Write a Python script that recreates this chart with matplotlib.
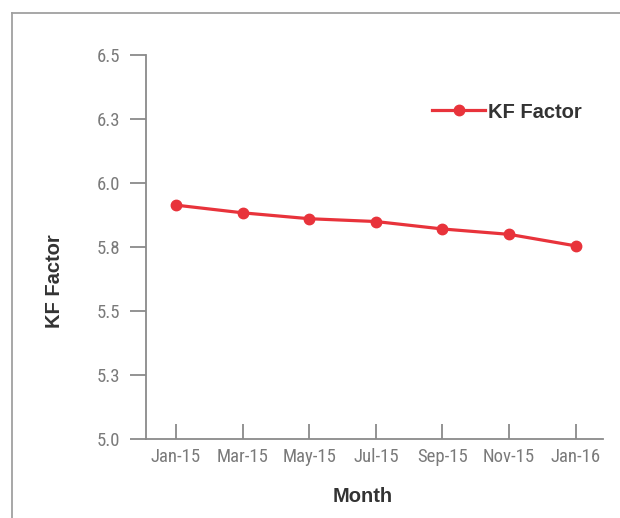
import matplotlib
matplotlib.use("Agg")
import matplotlib.pyplot as plt
from matplotlib.lines import Line2D
from matplotlib import font_manager

months = ["Jan-15", "Mar-15", "May-15", "Jul-15", "Sep-15", "Nov-15", "Jan-16"]
kf_factor = [5.914, 5.884, 5.861, 5.850, 5.821, 5.800, 5.755]
y_ticks = [5.0, 5.25, 5.5, 5.75, 6.0, 6.25, 6.5]
y_tick_labels = ["5.0", "5.3", "5.5", "5.8", "6.0", "6.3", "6.5"]

RED = "#e8333b"
GRAY = "#8a8a8a"
TXT = "#333333"
bold = ["Liberation Sans", "DejaVu Sans"]

# condensed font for tick labels if available
names = {f.name for f in font_manager.fontManager.ttflist}
cond_stretch = {(f.name, f.stretch) for f in font_manager.fontManager.ttflist}
if "Liberation Sans Narrow" in names:
    tick_fp = font_manager.FontProperties(family="Liberation Sans Narrow", size=13.5)
elif "Roboto Condensed" in names:
    tick_fp = font_manager.FontProperties(family="Roboto Condensed", size=13.5)
elif any(n == "DejaVu Sans" and s in ("condensed", "semi-condensed") for n, s in cond_stretch):
    tick_fp = font_manager.FontProperties(family="DejaVu Sans", stretch="condensed", size=13)
else:
    tick_fp = font_manager.FontProperties(family="Liberation Sans", size=12)

fig = plt.figure(figsize=(6.2, 5.18), dpi=100)
fig.patch.set_facecolor("white")
ax = fig.add_axes([146/620, (518-439.3)/518, 457/620, (439.3-55)/518])

x = list(range(len(months)))
ax.plot(x, kf_factor, color=RED, lw=2.3, marker="o", ms=7.5, label="KF Factor")

ax.set_xlim(-0.45, 6.41)
ax.set_ylim(5.0, 6.5)
ax.set_xticks(x)
ax.set_xticklabels(months, fontproperties=tick_fp, color="#7a7a7a")
ax.set_yticks(y_ticks)
ax.set_yticklabels(y_tick_labels, fontproperties=tick_fp, color="#7a7a7a")

for s in ["top", "right"]:
    ax.spines[s].set_visible(False)
for s in ["left", "bottom"]:
    ax.spines[s].set_color(GRAY)
    ax.spines[s].set_linewidth(1.3)
ax.tick_params(axis="y", direction="out", length=11.5, width=1.3, color=GRAY, pad=7)
ax.tick_params(axis="x", direction="in", length=11, width=1.3, color=GRAY, pad=6)

fig.text(363/620, 1 - 497/518, "Month", ha="center", va="center",
         family=bold, fontweight="bold", fontsize=14.5, color=TXT)
fig.text(55/620, 1 - 281/518, "KF Factor", ha="center", va="center", rotation=90,
         family=bold, fontweight="bold", fontsize=14.5, color=TXT)

leg = fig.legend(loc="center left", bbox_to_anchor=(432/620, 1 - 112/518),
                 frameon=False, borderpad=0, borderaxespad=0,
                 handlelength=2.64, handletextpad=0.15,
                 prop={"family": bold, "weight": "bold", "size": 14.5})
for t in leg.get_texts():
    t.set_color(TXT)

# outer frame
fig.add_artist(Line2D([11.5/620, 11.5/620], [0, 1 - 13/518], transform=fig.transFigure,
                      color="#a0a0a0", lw=1.3))
fig.add_artist(Line2D([11.5/620, 1], [1 - 13/518, 1 - 13/518], transform=fig.transFigure,
                      color="#a0a0a0", lw=1.3))

fig.savefig("out.png", dpi=100)
